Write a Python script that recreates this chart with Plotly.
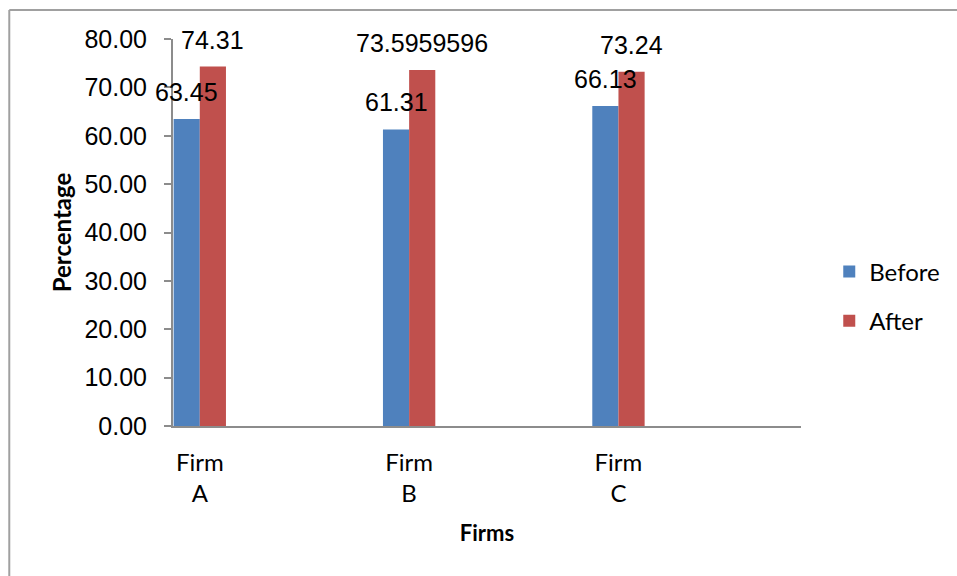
import plotly.graph_objects as go

# Survey results per firm, before and after the change
firms = ["Firm<br>A", "Firm<br>B", "Firm<br>C"]
before = [63.45, 61.31, 66.13]
after = [74.31, 73.5959596, 73.24]
y_ticks = [0, 10, 20, 30, 40, 50, 60, 70, 80]

BLUE = "#4F81BD"
RED = "#C0504D"
AXIS_GREY = "#8C8C8C"
LABEL_FONT = "Liberation Sans, Arial, sans-serif"
TEXT_FONT = "Lato, Open Sans, sans-serif"

x_idx = list(range(len(firms)))
bar_w = 0.125

fig = go.Figure()
fig.add_trace(go.Bar(x=x_idx, y=before, name="Before", marker_color=BLUE,
                     marker_line_width=0, legendgroup="b"))
fig.add_trace(go.Bar(x=x_idx, y=after, name="After", marker_color=RED,
                     marker_line_width=0, legendgroup="a"))

# value labels floating above each bar
annotations = []
for i, v in enumerate(before):
    annotations.append(dict(x=i - bar_w / 2, y=v, xref="x", yref="y", text=str(v),
                            showarrow=False, yanchor="middle", yshift=27,
                            font=dict(family=LABEL_FONT, size=25, color="black")))
for i, v in enumerate(after):
    annotations.append(dict(x=i + bar_w / 2, y=v, xref="x", yref="y", text=str(v),
                            showarrow=False, yanchor="middle", yshift=27,
                            font=dict(family=LABEL_FONT, size=25, color="black")))

# outer chart frame (top and left edges)
shapes = [
    dict(type="line", xref="paper", yref="paper", x0=-0.2607, x1=1.3, y0=1.0749, y1=1.0749,
         line=dict(color="#A0A0A0", width=2)),
    dict(type="line", xref="paper", yref="paper", x0=-0.2607, x1=-0.2607, y0=1.0749, y1=-0.45,
         line=dict(color="#A0A0A0", width=2)),
]

fig.update_layout(
    width=957, height=576,
    margin=dict(l=173, r=151, t=39, b=150),
    paper_bgcolor="white", plot_bgcolor="white",
    barmode="group", bargap=0.75, bargroupgap=0,
    annotations=annotations, shapes=shapes,
    legend=dict(x=1.045, y=0.335, xanchor="left", yanchor="middle",
                font=dict(family=TEXT_FONT, size=24, color="black"),
                tracegroupgap=15, bgcolor="rgba(0,0,0,0)"),
    xaxis=dict(
        tickmode="array", tickvals=x_idx, ticktext=firms,
        range=[-0.128, 2.872], showgrid=False, zeroline=False,
        showline=True, linecolor=AXIS_GREY, linewidth=2, ticks="",
        tickfont=dict(family=TEXT_FONT, size=24, color="black"),
        ticklabelstandoff=14,
        title=dict(text="<b>Firms</b>", font=dict(family=TEXT_FONT, size=22, color="black"),
                   standoff=20),
    ),
    yaxis=dict(
        range=[0, 80], tickmode="array", tickvals=y_ticks, tickformat=".2f",
        showgrid=False, zeroline=False, showline=True, linecolor=AXIS_GREY, linewidth=2,
        ticks="outside", ticklen=7, tickcolor=AXIS_GREY, tickwidth=2,
        tickfont=dict(family=LABEL_FONT, size=25, color="black"),
        ticklabelstandoff=12,
        title=dict(text="<b>Percentage</b>", font=dict(family=TEXT_FONT, size=24, color="black"),
                   standoff=6),
    ),
)

fig.write_html("out.html")
